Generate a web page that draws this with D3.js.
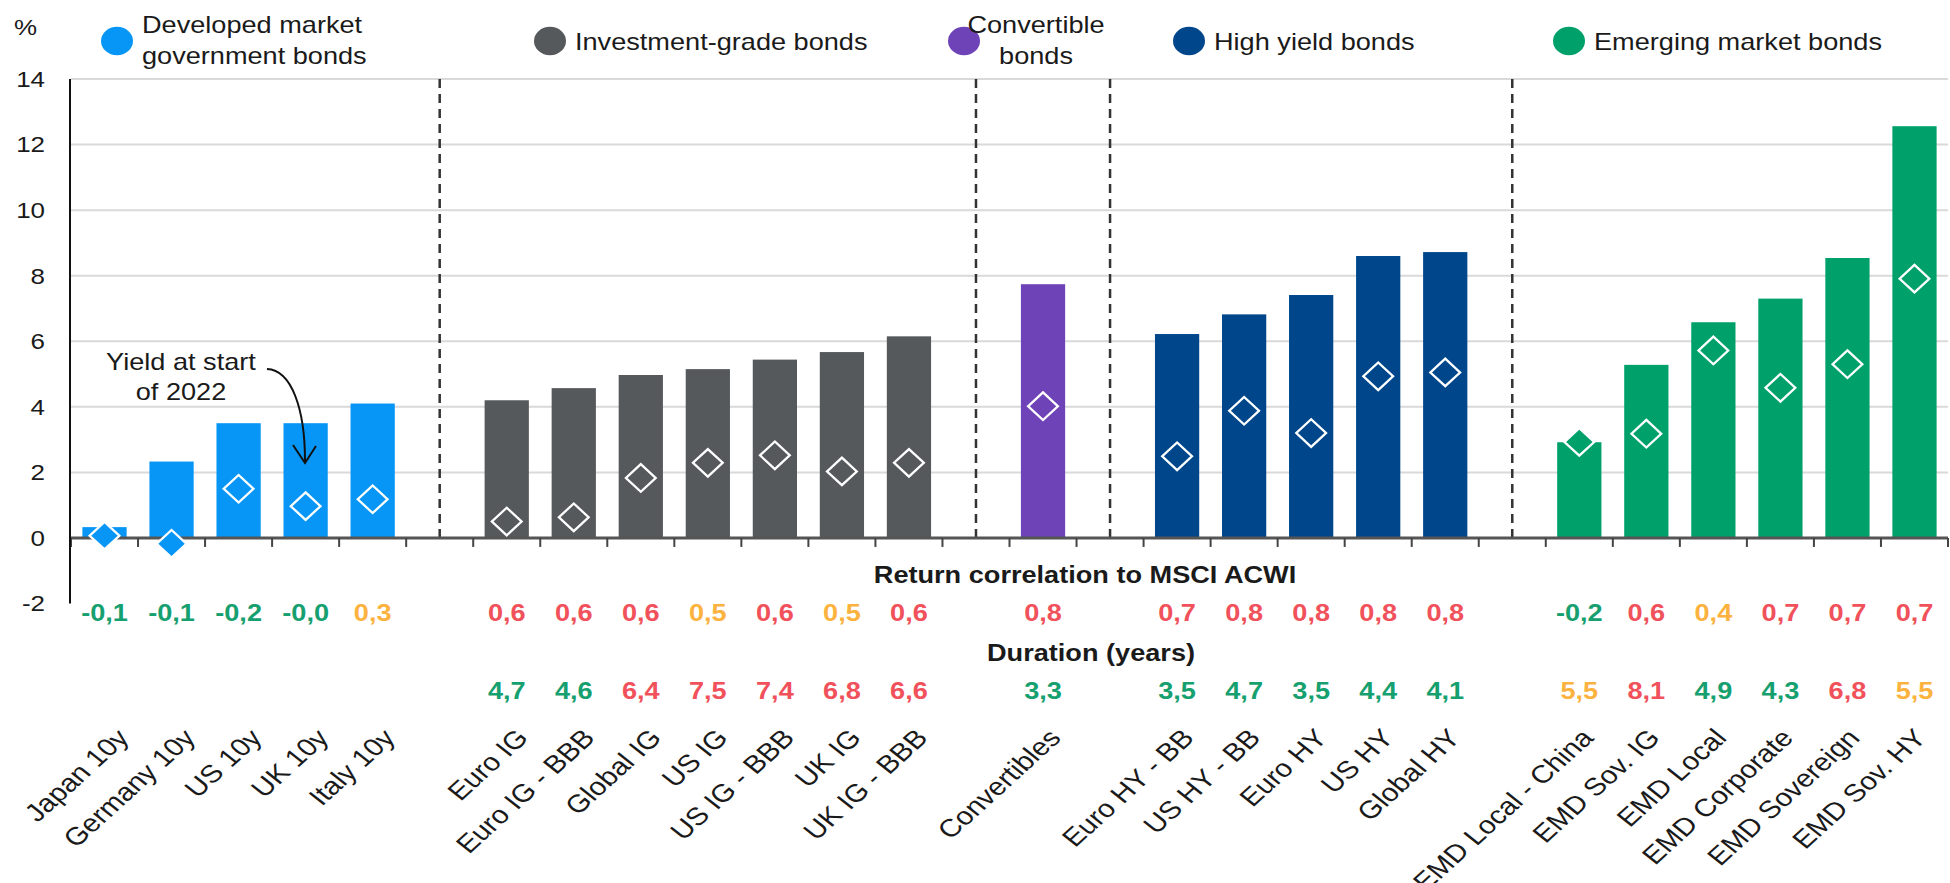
<!DOCTYPE html>
<html>
<head>
<meta charset="utf-8">
<script src="https://cdn.jsdelivr.net/npm/d3@7"></script>
<style>
  body { margin: 0; background: #fff; }
  text { font-family: "Liberation Sans", Arial, sans-serif; fill: #1a1a1a; }
</style>
</head>
<body>
<div id="chart"></div>
<script>
// data
var groupNames = [
  ["Developed market", "government bonds"],
  ["Investment-grade bonds"],
  ["Convertible", "bonds"],
  ["High yield bonds"],
  ["Emerging market bonds"]
];
var groupColors = ["#0796f6", "#56595c", "#6f43b8", "#00468b", "#00a06b"];

var categories = [
  "Japan 10y", "Germany 10y", "US 10y", "UK 10y", "Italy 10y",
  "Euro IG", "Euro IG - BBB", "Global IG", "US IG", "US IG - BBB", "UK IG", "UK IG - BBB",
  "Convertibles",
  "Euro HY - BB", "US HY - BB", "Euro HY", "US HY", "Global HY",
  "EMD Local - China", "EMD Sov. IG", "EMD Local", "EMD Corporate", "EMD Sovereign", "EMD Sov. HY"
];
var groupIndex = [0,0,0,0,0, 1,1,1,1,1,1,1, 2, 3,3,3,3,3, 4,4,4,4,4,4];

var yieldNow = [0.33, 2.33, 3.5, 3.5, 4.1,
  4.2, 4.57, 4.97, 5.15, 5.44, 5.67, 6.15,
  7.74,
  6.22, 6.82, 7.41, 8.6, 8.72,
  2.92, 5.28, 6.58, 7.3, 8.54, 12.56];
var yieldStart2022 = [0.07, -0.18, 1.5, 0.97, 1.18,
  0.5, 0.63, 1.83, 2.29, 2.52, 2.03, 2.29,
  4.02,
  2.49, 3.88, 3.2, 4.93, 5.05,
  2.93, 3.18, 5.72, 4.58, 5.3, 7.91];
var correlation = [-0.1, -0.1, -0.2, -0.04, 0.3,
  0.6, 0.6, 0.6, 0.5, 0.6, 0.5, 0.6,
  0.8,
  0.7, 0.8, 0.8, 0.8, 0.8,
  -0.2, 0.6, 0.4, 0.7, 0.7, 0.7];
var duration = [null, null, null, null, null,
  4.7, 4.6, 6.4, 7.5, 7.4, 6.8, 6.6,
  3.3,
  3.5, 4.7, 3.5, 4.4, 4.1,
  5.5, 8.1, 4.9, 4.3, 6.8, 5.5];
var yTicks = [-2, 0, 2, 4, 6, 8, 10, 12, 14];

var W = 1950, H = 883;
var SX = 1.18; // the source picture is stretched sideways
var green = "#17a06f", amber = "#fbb23e", red = "#f1515a";

var svg = d3.select("#chart").append("svg")
  .attr("width", W)
  .attr("height", H);

// slots: categories with an empty slot between groups
var slots = [];
categories.forEach(function (c, i) {
  if (i > 0 && groupIndex[i] !== groupIndex[i - 1]) slots.push("gap" + i);
  slots.push(c);
});

var x = d3.scaleBand().domain(slots).range([71, 1948])
  .paddingInner(0.34).paddingOuter(0.17);
var y = d3.scaleLinear().domain([-2, 14]).range([603.5, 79]);
var cx = function (c) { return x(c) + x.bandwidth() / 2; };

function place(sel, px, py, rot) {
  return sel.attr("transform", "translate(" + px + "," + py + ") scale(" + SX + ",1)" + (rot ? " rotate(" + rot + ")" : ""));
}
function fmt(v) {
  return (v < 0 ? "-" : "") + Math.abs(v).toFixed(1).replace(".", ",");
}

// grid
svg.append("g").selectAll("line")
  .data(yTicks.filter(function (t) { return t > 0; }))
  .enter().append("line")
  .attr("x1", 71).attr("x2", 1948)
  .attr("y1", function (d) { return y(d); })
  .attr("y2", function (d) { return y(d); })
  .style("stroke", "#d9d9d9").style("stroke-width", 2);

// y tick labels
svg.append("g").selectAll("text")
  .data(yTicks)
  .enter().append("text")
  .each(function (d) { place(d3.select(this), 45, y(d), 0); })
  .attr("dy", "0.36em")
  .attr("text-anchor", "end")
  .style("font-size", "22px")
  .text(function (d) { return d; });

place(svg.append("text"), 14, 35, 0).style("font-size", "22px").text("%");

// group separators
var gaps = slots.filter(function (s) { return s.indexOf("gap") === 0; });
svg.append("g").selectAll("line")
  .data(gaps)
  .enter().append("line")
  .attr("x1", cx).attr("x2", cx)
  .attr("y1", y(14)).attr("y2", y(0))
  .style("stroke", "#333").style("stroke-width", 2.5)
  .style("stroke-dasharray", "9,6");

// bars
var rows = categories.map(function (c, i) {
  return { name: c, group: groupIndex[i], now: yieldNow[i], start: yieldStart2022[i],
    corr: correlation[i], dur: duration[i] };
});

svg.append("g").selectAll("rect")
  .data(rows)
  .enter().append("rect")
  .attr("x", function (d) { return x(d.name); })
  .attr("y", function (d) { return y(Math.max(0, d.now)); })
  .attr("width", x.bandwidth())
  .attr("height", function (d) { return Math.abs(y(d.now) - y(0)); })
  .style("fill", function (d) { return groupColors[d.group]; });

// zero line, ticks and y axis
svg.append("line")
  .attr("x1", 71).attr("x2", 1948).attr("y1", y(0)).attr("y2", y(0))
  .style("stroke", "#555").style("stroke-width", 3);

var bounds = slots.map(function (s) { return x(s) - x.step() * x.paddingInner() / 2; });
bounds.push(1948);
svg.append("g").selectAll("line")
  .data(bounds)
  .enter().append("line")
  .attr("x1", function (d) { return d; }).attr("x2", function (d) { return d; })
  .attr("y1", y(0)).attr("y2", y(0) + 9)
  .style("stroke", "#444").style("stroke-width", 2);

svg.append("line")
  .attr("x1", 70).attr("x2", 70).attr("y1", y(14)).attr("y2", y(-2))
  .style("stroke", "#111").style("stroke-width", 2);

// start-of-2022 yields as diamonds
var diamond = d3.symbol().type(d3.symbolSquare).size(380);
svg.append("g").selectAll("path")
  .data(rows)
  .enter().append("path")
  .attr("d", diamond)
  .attr("transform", function (d) { return "translate(" + cx(d.name) + "," + y(d.start) + ") scale(1.08,1) rotate(45)"; })
  .style("fill", function (d) { return groupColors[d.group]; })
  .style("stroke", "#fff").style("stroke-width", 2.2);

// annotation
var ann = svg.append("g");
place(ann.append("text"), 181, 370, 0).attr("text-anchor", "middle").style("font-size", "23px").text("Yield at start");
place(ann.append("text"), 181, 400, 0).attr("text-anchor", "middle").style("font-size", "23px").text("of 2022");
ann.append("path").attr("d", "M267,369 C292,370 305,410 305,461")
  .style("fill", "none").style("stroke", "#111").style("stroke-width", 2);
ann.append("path").attr("d", "M293,445 L305,463 L316,446")
  .style("fill", "none").style("stroke", "#111").style("stroke-width", 2);

// legend
var legendX = [117, 550, 964, 1189, 1569];
var legend = svg.append("g").selectAll("g")
  .data(groupNames)
  .enter().append("g");
legend.append("ellipse")
  .attr("cx", function (d, i) { return legendX[i]; }).attr("cy", 41)
  .attr("rx", 16).attr("ry", 14.3)
  .style("fill", function (d, i) { return groupColors[i]; });
legend.each(function (lines, i) {
  var g = d3.select(this);
  var centered = i === 2;
  var tx = centered ? 1036 : legendX[i] + 25;
  lines.forEach(function (line, k) {
    var ty = lines.length === 1 ? 50 : 33 + k * 31;
    place(g.append("text"), tx, ty, 0)
      .attr("text-anchor", centered ? "middle" : "start")
      .style("font-size", "23px")
      .text(line);
  });
});

// correlation and duration rows
function corrColor(v) { return v < 0.25 ? green : (v < 0.55 ? amber : red); }
function durColor(v) { return v < 5 ? green : (v < 6 ? amber : red); }

place(svg.append("text"), 1085, 583, 0).attr("text-anchor", "middle")
  .style("font-size", "23px").style("font-weight", "bold").text("Return correlation to MSCI ACWI");
place(svg.append("text"), 1091, 661, 0).attr("text-anchor", "middle")
  .style("font-size", "23px").style("font-weight", "bold").text("Duration (years)");

svg.append("g").selectAll("text")
  .data(rows)
  .enter().append("text")
  .each(function (d) { place(d3.select(this), cx(d.name), 621, 0); })
  .attr("text-anchor", "middle")
  .style("font-size", "23px").style("font-weight", "bold")
  .style("fill", function (d) { return corrColor(d.corr); })
  .text(function (d) { return fmt(d.corr); });

svg.append("g").selectAll("text")
  .data(rows.filter(function (d) { return d.dur !== null; }))
  .enter().append("text")
  .each(function (d) { place(d3.select(this), cx(d.name), 699, 0); })
  .attr("text-anchor", "middle")
  .style("font-size", "23px").style("font-weight", "bold")
  .style("fill", function (d) { return durColor(d.dur); })
  .text(function (d) { return fmt(d.dur); });

// category labels (they drift a little to the left across the chart)
var labelShift = d3.scaleLinear().domain([x.range()[0], x.range()[1]]).range([26, 13]);
svg.append("g").selectAll("text")
  .data(rows)
  .enter().append("text")
  .each(function (d) { var c = cx(d.name); place(d3.select(this), c + labelShift(c), 739, -47); })
  .attr("text-anchor", "end")
  .style("font-size", "25px")
  .text(function (d) { return d.name; });
</script>
</body>
</html>
